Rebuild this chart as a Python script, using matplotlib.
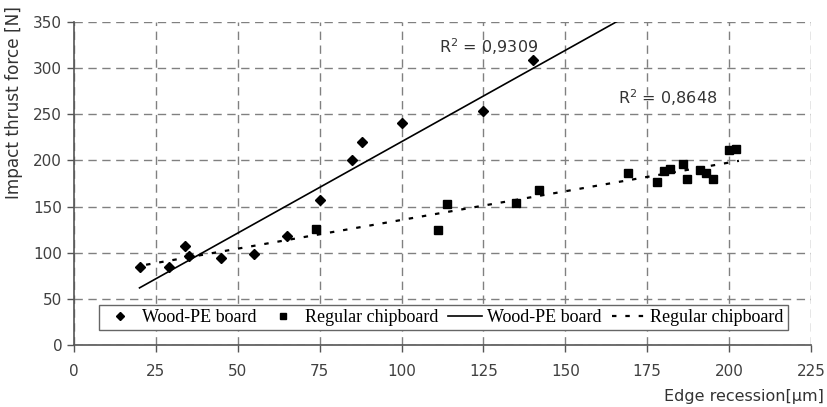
import numpy as np
import matplotlib
matplotlib.use("Agg")
import matplotlib.pyplot as plt

# Wood-PE board (diamonds)
wood_x = [20, 29, 34, 35, 45, 55, 65, 75, 85, 88, 100, 125, 140]
wood_y = [84, 85, 107, 96, 94, 99, 118, 157, 200, 220, 241, 254, 309]

# Regular chipboard (squares)
chip_x = [74, 111, 114, 135, 142, 169, 178, 180, 182, 186, 187, 191, 193, 195, 200, 202]
chip_y = [126, 125, 153, 154, 168, 186, 177, 189, 191, 196, 180, 190, 186, 180, 211, 212]

# trend lines: slope, intercept, x range
wood_fit = (1.98, 22.3)
wood_fit_x = [20, 166.5]
chip_fit = (0.622, 73.3)
chip_fit_x = [22, 203]

r2_wood = "0,9309"
r2_chip = "0,8648"

x_ticks = list(range(0, 226, 25))
y_ticks = list(range(0, 351, 50))

fig = plt.figure(figsize=(8.28, 4.07), dpi=100)
ax = fig.add_axes([74/828, 62/407, (811-74)/828, (345-22)/407])

tc = '#404040'
grid_kw = dict(color='#808080', linestyle=(0, (6, 4)), linewidth=1.0)
ax.grid(True, **grid_kw)
ax.set_axisbelow(True)

wx = np.array(wood_fit_x)
ax.plot(wx, wood_fit[0]*wx + wood_fit[1], color='black', lw=1.2,
        label='Wood-PE board', zorder=3)
cx = np.array(chip_fit_x)
ax.plot(cx, chip_fit[0]*cx + chip_fit[1], color='black', lw=1.6,
        linestyle=(0, (2, 4)), label='Regular chipboard', zorder=3)

ax.plot(wood_x, wood_y, 'D', color='black', ms=5.5, label='Wood-PE board', zorder=4)
ax.plot(chip_x, chip_y, 's', color='black', ms=6, label='Regular chipboard', zorder=4)

ax.set_xlim(0, 225)
ax.set_ylim(0, 350)
ax.set_xticks(x_ticks)
ax.set_yticks(y_ticks)
ax.tick_params(axis='both', colors='#555555', labelcolor=tc, labelsize=11,
               direction='out', length=5, width=1)
ax.tick_params(axis='x', pad=9)

for s in ['top', 'right']:
    ax.spines[s].set_visible(False)
for s in ['left', 'bottom']:
    ax.spines[s].set_color('#555555')
    ax.spines[s].set_linewidth(1.2)

ax.text(111.5, 323, "R$^2$ = " + r2_wood, fontsize=11.5, color='#333333', va='center')
ax.text(166, 268, "R$^2$ = " + r2_chip, fontsize=11.5, color='#333333', va='center')

handles, labels = ax.get_legend_handles_labels()
order = [2, 3, 0, 1]
leg = ax.legend([handles[i] for i in order], [labels[i] for i in order],
                ncol=4, loc='lower left', bbox_to_anchor=(0.034, 0.046),
                prop={'family': 'Liberation Serif', 'size': 13},
                frameon=True, fancybox=False, framealpha=1, edgecolor='#666666',
                handlelength=1.87, handletextpad=0.28, columnspacing=0.55,
                borderpad=0.22, borderaxespad=0, markerscale=0.8)
leg.get_frame().set_linewidth(1.0)

ax.set_ylabel("Impact thrust force [N]", fontsize=12.2, color='#333333')
ax.yaxis.set_label_coords(-0.069, 0.75)
fig.text(824/828, 1 - 397/407, "Edge recession[\u00b5m]", ha='right', va='center',
         fontsize=11.5, color='#333333')

fig.savefig("out.png", dpi=100)
